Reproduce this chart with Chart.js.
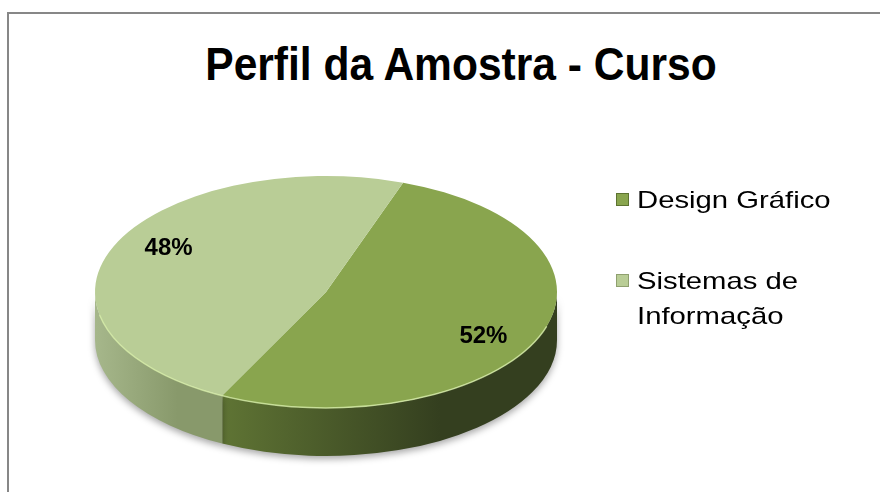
<!DOCTYPE html>
<html>
<head>
<meta charset="utf-8">
<script src="https://cdn.jsdelivr.net/npm/chart.js@4.4.1/dist/chart.umd.min.js"></script>
<style>
  body { margin: 0; background: #fff; overflow: hidden; }
  #wrap { position: relative; width: 880px; height: 492px; overflow: hidden; }
  #frame { position: absolute; left: 7px; top: 12px; width: 940px; height: 540px; border: 2px solid #878787; box-sizing: border-box; }
  #title { position: absolute; left: 0; top: 41px; width: 922px; margin: 0; text-align: center;
           font: bold 46px "Liberation Sans", Arial, sans-serif; line-height: 1; color: #000;
           transform: scaleX(0.925); }
  canvas { position: absolute; left: 0; top: 0; }
  #legend { position: absolute; left: 616px; top: 182px; margin: 0; padding: 0; list-style: none;
            font: 24px "Liberation Sans", Arial, sans-serif; color: #000; }
  #legend li { display: flex; align-items: flex-start; margin-bottom: 46px; }
  #legend .box { width: 11px; height: 11px; margin: 11px 8px 0 0; flex: none; border: 1px solid; }
  #legend .txt { width: 170px; line-height: 35px; transform: scaleX(1.22); transform-origin: 0 0; }
</style>
</head>
<body>
<div id="wrap">
  <div id="frame"></div>
  <h1 id="title">Perfil da Amostra - Curso</h1>
  <canvas id="pieChart" width="880" height="492"></canvas>
  <ul id="legend"></ul>
</div>
<script>
const labels = ['Design Gráfico', 'Sistemas de Informação'];
const shares = [52, 48];

const topColors = ['#89a54e', '#b9cd96'];
const sideColors = [['#5f7434', '#343f1f'], ['#a6b78b', '#88996b']];
const boxBorders = ['#5d7331', '#8fa06f'];

const tilt = 0.502;   // vertical squash of the top face
const depth = 48;     // thickness of the side, px
const centerY = 292;  // screen y of the top face centre

// visible part of an arc on the front side (0..PI, plus wrap)
function frontPart(s, e) {
  const parts = [];
  [[0, Math.PI], [2 * Math.PI, 3 * Math.PI], [-2 * Math.PI, -Math.PI]].forEach(([a, b]) => {
    const lo = Math.max(s, a), hi = Math.min(e, b);
    if (hi > lo) parts.push([lo, hi]);
  });
  return parts;
}

const pie3d = {
  id: 'pie3d',
  beforeDatasetsDraw(chart) {
    const ctx = chart.ctx;
    const arcs = chart.getDatasetMeta(0).data;
    arcs.forEach((arc, i) => {
      const cx = arc.x, rx = arc.outerRadius, ry = rx * tilt;
      frontPart(arc.startAngle, arc.endAngle).forEach(([a, b]) => {
        const x1 = cx + rx * Math.cos(b), x2 = cx + rx * Math.cos(a);
        const g = ctx.createLinearGradient(Math.min(x1, x2), 0, Math.max(x1, x2), 0);
        g.addColorStop(0, sideColors[i][0]);
        g.addColorStop(0.65, sideColors[i][1]);
        g.addColorStop(1, sideColors[i][1]);
        ctx.save();
        ctx.shadowColor = 'rgba(0,0,0,0.35)';
        ctx.shadowBlur = 7;
        ctx.shadowOffsetY = 3;
        ctx.beginPath();
        ctx.ellipse(cx, centerY, rx, ry, 0, a, b);
        ctx.ellipse(cx, centerY + depth, rx, ry, 0, b, a, true);
        ctx.closePath();
        ctx.fillStyle = g;
        ctx.fill();
        ctx.restore();
      });
    });
    // squash the top face drawn by the pie controller
    ctx.save();
    ctx.translate(0, centerY);
    ctx.scale(1, tilt);
    ctx.translate(0, -arcs[0].y);
  },
  afterDatasetsDraw(chart) {
    const ctx = chart.ctx;
    ctx.restore();
    const arcs = chart.getDatasetMeta(0).data;
    const total = shares.reduce((a, b) => a + b, 0);
    // light rim on the front edge
    const a0 = arcs[0];
    ctx.save();
    ctx.strokeStyle = 'rgba(214,236,168,0.8)';
    ctx.lineWidth = 1.5;
    ctx.beginPath();
    ctx.ellipse(a0.x, centerY, a0.outerRadius, a0.outerRadius * tilt, 0, 0.3, Math.PI - 0.2);
    ctx.stroke();
    ctx.restore();
    // percentage labels
    ctx.save();
    ctx.font = 'bold 24px "Liberation Sans", Arial, sans-serif';
    ctx.fillStyle = '#000';
    ctx.textAlign = 'center';
    ctx.textBaseline = 'middle';
    arcs.forEach((arc, i) => {
      const mid = (arc.startAngle + arc.endAngle) / 2 + 6 * Math.PI / 180;
      const r = arc.outerRadius * 0.78;
      const x = arc.x + r * Math.cos(mid);
      const y = centerY + r * tilt * Math.sin(mid);
      ctx.fillText(Math.round(shares[i] / total * 100) + '%', x, y);
    });
    ctx.restore();
  }
};

const chart = new Chart(document.getElementById('pieChart'), {
  type: 'pie',
  data: {
    labels,
    datasets: [{
      data: shares,
      backgroundColor: topColors,
      borderWidth: 0,
      hoverBorderWidth: 0,
      hoverOffset: 0,
      clip: false
    }]
  },
  options: {
    responsive: false,
    animation: false,
    events: [],
    rotation: 19.5,
    layout: { padding: { left: 95, right: 323, top: 15, bottom: 15 } },
    plugins: {
      legend: { display: false },
      tooltip: { enabled: false }
    }
  },
  plugins: [pie3d]
});

// legend built from the chart data
const legend = document.getElementById('legend');
chart.data.labels.forEach((label, i) => {
  const li = document.createElement('li');
  const box = document.createElement('span');
  box.className = 'box';
  box.style.background = chart.data.datasets[0].backgroundColor[i];
  box.style.borderColor = boxBorders[i];
  const txt = document.createElement('span');
  txt.className = 'txt';
  txt.textContent = label;
  li.appendChild(box);
  li.appendChild(txt);
  legend.appendChild(li);
});
</script>
</body>
</html>
